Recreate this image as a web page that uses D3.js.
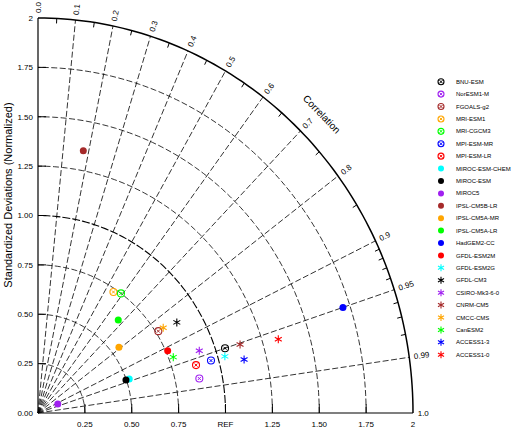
<!DOCTYPE html>
<html lang="en">
<head>
<meta charset="utf-8">
<title>Taylor diagram</title>
<script src="https://cdn.jsdelivr.net/npm/d3@7"></script>
<style>
body{margin:0;background:#fff;}
text{font-family:"Liberation Sans",Arial,sans-serif;fill:#000;}
</style>
</head>
<body>
<script>
// model list, top to bottom as in the legend
var models=["BNU-ESM","NorESM1-M","FGOALS-g2","MRI-ESM1","MRI-CGCM3","MPI-ESM-MR","MPI-ESM-LR",
  "MIROC-ESM-CHEM","MIROC-ESM","MIROC5","IPSL-CM5B-LR","IPSL-CM5A-MR","IPSL-CM5A-LR","HadGEM2-CC","GFDL-ESM2M",
  "GFDL-ESM2G","GFDL-CM3","CSIRO-Mk3-6-0","CNRM-CM5","CMCC-CMS","CanESM2","ACCESS1-3","ACCESS1-0"];
// normalized standard deviation and correlation
var stdDev=[1.050,0.878,0.764,0.733,0.750,0.960,0.877,
  0.516,0.498,0.115,1.350,0.545,0.636,1.712,0.760,
  1.037,0.871,0.916,1.132,0.795,0.775,1.132,1.335];
var corrCoef=[0.950,0.980,0.840,0.549,0.590,0.961,0.961,
  0.943,0.942,0.917,0.179,0.792,0.673,0.950,0.910,
  0.961,0.850,0.939,0.952,0.840,0.931,0.971,0.960];
var markerColor=["#000000","#a020f0","#a52a2a","#ffa500","#00ff00","#0000ff","#ff0000",
  "#00ffff","#000000","#a020f0","#a52a2a","#ffa500","#00ff00","#0000ff","#ff0000",
  "#00ffff","#000000","#a020f0","#a52a2a","#ffa500","#00ff00","#0000ff","#ff0000"];
var markerType=["ring","ring","ring","ring","ring","ring","ring",
  "dot","dot","dot","dot","dot","dot","dot","dot",
  "star","star","star","star","star","star","star","star"];

var stdTicks=[0,0.25,0.5,0.75,1,1.25,1.5,1.75,2];
var yTickLabels=["0.00","0.25","0.50","0.75","1.00","1.25","1.50","1.75","2"];
var xTickLabels=["","0.25","0.50","0.75","REF","1.25","1.50","1.75","2"];
var stdArcs=[0.25,0.5,0.75,1.25,1.5,1.75];
var corrLabels=["0.0","0.1","0.2","0.3","0.4","0.5","0.6","0.7","0.8","0.9","0.95","0.99","1.0"];
var corrRays=[0.1,0.2,0.3,0.4,0.5,0.6,0.7,0.8,0.9,0.95,0.99];
var corrMinor=[0.05,0.15,0.25,0.35,0.45,0.55,0.65,0.75,0.85,0.91,0.92,0.93,0.94,0.96,0.97,0.98];

var w=519,h=445;
var x=d3.scaleLinear().domain([0,2]).range([38,413]);
var y=d3.scaleLinear().domain([0,2]).range([413,18]);

var svg=d3.select("body").append("svg").attr("width",w).attr("height",h);

// point on the diagram from (std, corr)
function px(s,c){return x(s*c);}
function py(s,c){return y(s*Math.sqrt(Math.max(0,1-c*c)));}
// screen angle (degrees) of a correlation ray
function screenAngle(c){
  var dx=px(2,c)-px(0,c), dy=py(0,c)-py(2,c);
  return Math.atan2(dy,dx)*180/Math.PI;
}

var line=d3.line();
function arcPoints(r){
  return d3.range(0,91).map(function(a){
    var t=a*Math.PI/180;
    return [x(r*Math.cos(t)),y(r*Math.sin(t))];
  });
}

// standard deviation arcs
svg.selectAll("path.sd").data(stdArcs).enter().append("path")
  .attr("class","sd")
  .attr("d",function(d){return line(arcPoints(d));})
  .attr("fill","none").attr("stroke","#000").attr("stroke-width",0.8)
  .attr("stroke-dasharray","6,2.5");

// REF arc
svg.append("path").attr("d",line(arcPoints(1)))
  .attr("fill","none").attr("stroke","#000").attr("stroke-width",1.1)
  .attr("stroke-dasharray","8,2");

// correlation rays
svg.selectAll("line.ray").data(corrRays).enter().append("line")
  .attr("class","ray")
  .attr("x1",x(0)).attr("y1",y(0))
  .attr("x2",function(d){return px(2,d);})
  .attr("y2",function(d){return py(2,d);})
  .attr("stroke","#000").attr("stroke-width",0.8)
  .attr("stroke-dasharray","6,2.5");

// outer arc and axes
svg.append("path").attr("d",line(arcPoints(2)))
  .attr("fill","none").attr("stroke","#000").attr("stroke-width",1.5);
svg.append("line").attr("x1",x(0)).attr("y1",y(0)).attr("x2",x(0)).attr("y2",y(2))
  .attr("stroke","#000").attr("stroke-width",1.2);
svg.append("line").attr("x1",x(0)).attr("y1",y(0)).attr("x2",x(2)).attr("y2",y(0))
  .attr("stroke","#000").attr("stroke-width",1.2);

// axis ticks
svg.selectAll("line.yt").data(stdTicks.slice(1,8)).enter().append("line")
  .attr("class","yt")
  .attr("x1",x(0)).attr("x2",x(0)+8)
  .attr("y1",function(d){return y(d);}).attr("y2",function(d){return y(d);})
  .attr("stroke","#000").attr("stroke-width",1);
svg.selectAll("line.xt").data(stdTicks.slice(1,8)).enter().append("line")
  .attr("class","xt")
  .attr("x1",function(d){return x(d);}).attr("x2",function(d){return x(d);})
  .attr("y1",y(0)).attr("y2",y(0)-9)
  .attr("stroke","#000").attr("stroke-width",1);

// tick labels
svg.selectAll("text.yl").data(stdTicks).enter().append("text")
  .attr("class","yl")
  .attr("x",x(0)-5).attr("y",function(d){return y(d);})
  .attr("dy","0.35em").attr("text-anchor","end").attr("font-size","8px")
  .text(function(d,i){return yTickLabels[i];});
svg.selectAll("text.xl").data(stdTicks).enter().append("text")
  .attr("class","xl")
  .attr("x",function(d){return x(d);}).attr("y",y(0)+14)
  .attr("text-anchor","middle").attr("font-size","8px")
  .text(function(d,i){return xTickLabels[i];});

// minor ticks on the outer arc
svg.selectAll("line.mt").data(corrMinor).enter().append("line")
  .attr("class","mt")
  .attr("x1",function(d){return px(2,d);}).attr("y1",function(d){return py(2,d);})
  .attr("x2",function(d){return px(1.975,d);}).attr("y2",function(d){return py(1.975,d);})
  .attr("stroke","#000").attr("stroke-width",1);

// correlation labels
svg.selectAll("text.cl").data(corrLabels).enter().append("text")
  .attr("class","cl")
  .attr("transform",function(d){
    var c=+d;
    return "translate("+px(2.025,c)+","+py(2.025,c)+") rotate("+(-screenAngle(c))+")";
  })
  .attr("dy","0.35em").attr("font-size","8px")
  .text(function(d){return d;});

svg.append("text")
  .attr("transform","translate("+px(2.14,Math.SQRT1_2)+","+py(2.14,Math.SQRT1_2)+") rotate(46)")
  .attr("text-anchor","middle").attr("dy","0.35em").attr("font-size","10px")
  .text("Correlation");

svg.append("text")
  .attr("transform","translate(8,195) rotate(-90)")
  .attr("text-anchor","middle").attr("dy","0.35em").attr("font-size","11px")
  .text("Standardized Deviations (Normalized)");

// marker drawing
function drawMarker(g,type,color,r){
  if(type==="dot"){
    g.append("circle").attr("r",r).attr("fill",color);
  } else if(type==="ring"){
    g.append("circle").attr("r",r).attr("fill","none").attr("stroke",color).attr("stroke-width",1.1);
    g.append("path").attr("d","M-1.5,-1.5L1.5,1.5M-1.5,1.5L1.5,-1.5")
      .attr("stroke",color).attr("stroke-width",1);
  } else {
    var a=r+0.5,b=a*0.866,c=a*0.5;
    g.append("path").attr("d","M0,"+(-a)+"L0,"+a+"M"+(-b)+","+(-c)+"L"+b+","+c+"M"+(-b)+","+c+"L"+b+","+(-c))
      .attr("stroke",color).attr("stroke-width",1.1);
  }
}

// data points
var pts=svg.selectAll("g.pt").data(models).enter().append("g")
  .attr("class","pt")
  .attr("transform",function(d,i){return "translate("+px(stdDev[i],corrCoef[i])+","+py(stdDev[i],corrCoef[i])+")";});
pts.each(function(d,i){drawMarker(d3.select(this),markerType[i],markerColor[i],3.5);});

// legend
var leg=svg.selectAll("g.lg").data(models).enter().append("g")
  .attr("class","lg")
  .attr("transform",function(d,i){return "translate(441,"+(81.7+i*12.41)+")";});
leg.each(function(d,i){drawMarker(d3.select(this),markerType[i],markerColor[i],3);});
leg.append("text").attr("x",15).attr("dy","0.35em").attr("font-size","6px")
  .text(function(d){return d;});
</script>
</body>
</html>
